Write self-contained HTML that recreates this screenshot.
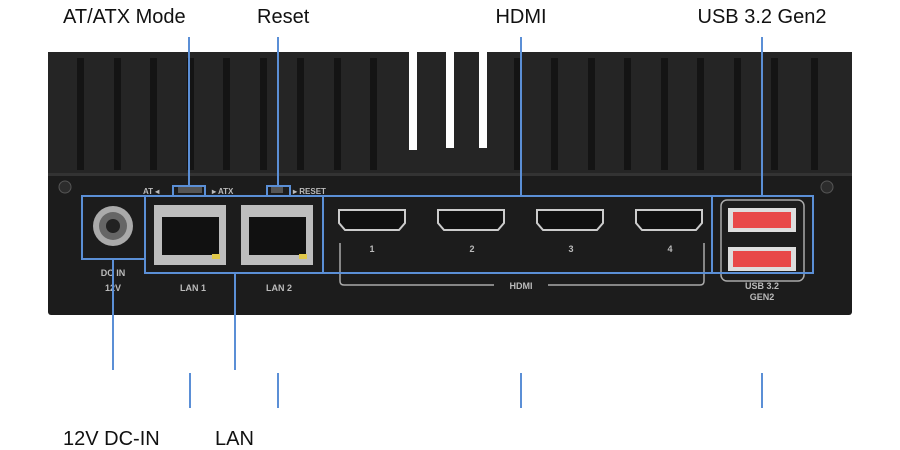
<!DOCTYPE html>
<html><head><style>
html,body{margin:0;padding:0;background:#fff;}
svg{display:block;}
text{font-family:"Liberation Sans",sans-serif;}
</style></head><body>
<svg width="900" height="450" viewBox="0 0 900 450" xmlns="http://www.w3.org/2000/svg">
<rect width="900" height="450" fill="#fff"/>
<!-- heatsink -->
<rect x="48" y="52" width="804" height="122" fill="#252525"/>
<g fill="#141414">
<rect x="77" y="58" width="7" height="112"/><rect x="114" y="58" width="7" height="112"/>
<rect x="150" y="58" width="7" height="112"/><rect x="187" y="58" width="7" height="112"/>
<rect x="223" y="58" width="7" height="112"/><rect x="260" y="58" width="7" height="112"/>
<rect x="297" y="58" width="7" height="112"/><rect x="334" y="58" width="7" height="112"/>
<rect x="370" y="58" width="7" height="112"/>
<rect x="514" y="58" width="7" height="112"/><rect x="551" y="58" width="7" height="112"/>
<rect x="588" y="58" width="7" height="112"/><rect x="624" y="58" width="7" height="112"/>
<rect x="661" y="58" width="7" height="112"/><rect x="697" y="58" width="7" height="112"/>
<rect x="734" y="58" width="7" height="112"/><rect x="771" y="58" width="7" height="112"/>
<rect x="811" y="58" width="7" height="112"/>
</g>
<rect x="409" y="48" width="8" height="102" fill="#fff"/>
<rect x="446" y="48" width="8" height="100" fill="#fff"/>
<rect x="479" y="48" width="8" height="100" fill="#fff"/>
<!-- front panel -->
<rect x="48" y="173" width="804" height="142" rx="3" fill="#1c1c1c"/>
<rect x="48" y="173" width="804" height="3" fill="#333"/>
<circle cx="65" cy="187" r="6" fill="#2c2c2c" stroke="#555"/>
<circle cx="827" cy="187" r="6" fill="#2c2c2c" stroke="#555"/>
<!-- DC -->
<circle cx="113" cy="226" r="20" fill="#aaa"/><circle cx="113" cy="226" r="14" fill="#666"/><circle cx="113" cy="226" r="7" fill="#222"/>
<text x="113" y="276" fill="#bbb" font-size="9" font-weight="bold" text-anchor="middle">DC IN</text>
<text x="113" y="291" fill="#bbb" font-size="9" font-weight="bold" text-anchor="middle">12V</text>
<!-- LAN -->
<rect x="154" y="205" width="72" height="60" fill="#bdbdbd"/><rect x="162" y="217" width="57" height="38" fill="#111"/>
<rect x="212" y="254" width="8" height="5" fill="#e0c84a"/>
<rect x="241" y="205" width="72" height="60" fill="#bdbdbd"/><rect x="249" y="217" width="57" height="38" fill="#111"/>
<rect x="299" y="254" width="8" height="5" fill="#e0c84a"/>
<text x="193" y="291" fill="#bbb" font-size="9" font-weight="bold" text-anchor="middle">LAN 1</text>
<text x="279" y="291" fill="#bbb" font-size="9" font-weight="bold" text-anchor="middle">LAN 2</text>
<text x="143" y="194" fill="#bbb" font-size="8" font-weight="bold">AT ◂</text>
<text x="212" y="194" fill="#bbb" font-size="8" font-weight="bold">▸ ATX</text>
<text x="293" y="194" fill="#bbb" font-size="8" font-weight="bold">▸ RESET</text>
<rect x="178" y="187" width="24" height="6" fill="#555"/><rect x="271" y="187" width="12" height="6" fill="#555"/>
<!-- HDMI -->
<g fill="#111" stroke="#ccc" stroke-width="2">
<path d="M339 210 h66 v13 l-6 7 h-54 l-6 -7z"/>
<path d="M438 210 h66 v13 l-6 7 h-54 l-6 -7z"/>
<path d="M537 210 h66 v13 l-6 7 h-54 l-6 -7z"/>
<path d="M636 210 h66 v13 l-6 7 h-54 l-6 -7z"/>
</g>
<g fill="#bbb" font-size="9" font-weight="bold" text-anchor="middle">
<text x="372" y="252">1</text><text x="472" y="252">2</text><text x="571" y="252">3</text><text x="670" y="252">4</text>
<text x="521" y="289">HDMI</text>
<text x="762" y="289">USB 3.2</text><text x="762" y="300">GEN2</text>
</g>
<path d="M340 243 v38 q0 4 4 4 h150 M548 285 h152 q4 0 4 -4 v-38" fill="none" stroke="#aaa" stroke-width="1.5"/>
<rect x="721" y="200" width="83" height="81" rx="6" fill="none" stroke="#aaa" stroke-width="1.5"/>
<!-- USB -->
<rect x="728" y="208" width="68" height="24" fill="#ddd"/><rect x="733" y="212" width="58" height="16" fill="#e84848"/>
<rect x="728" y="247" width="68" height="24" fill="#ddd"/><rect x="733" y="251" width="58" height="16" fill="#e84848"/>
<!-- callouts -->
<g stroke="#5b8fd6" stroke-width="2" fill="none">
<line x1="189" y1="37" x2="189" y2="186"/><path d="M173 196 v-10 h32 v10"/>
<line x1="278" y1="37" x2="278" y2="186"/><path d="M267 196 v-10 h23 v10"/>
<line x1="521" y1="37" x2="521" y2="196"/>
<line x1="762" y1="37" x2="762" y2="196"/>
<rect x="82" y="196" width="63" height="63"/>
<path d="M145 196 H813 V273 H145 Z"/>
<line x1="323" y1="196" x2="323" y2="273"/>
<line x1="712" y1="196" x2="712" y2="273"/>
<line x1="113" y1="259" x2="113" y2="370"/>
<line x1="235" y1="273" x2="235" y2="370"/>
<line x1="190" y1="373" x2="190" y2="408"/>
<line x1="278" y1="373" x2="278" y2="408"/>
<line x1="521" y1="373" x2="521" y2="408"/>
<line x1="762" y1="373" x2="762" y2="408"/>
</g>
<g font-size="20" fill="#111">
<text x="63" y="23">AT/ATX Mode</text>
<text x="257" y="23">Reset</text>
<text x="521" y="23" text-anchor="middle">HDMI</text>
<text x="762" y="23" text-anchor="middle">USB 3.2 Gen2</text>
<text x="63" y="445">12V DC-IN</text>
<text x="215" y="445">LAN</text>
</g>
</svg>
</body></html>
